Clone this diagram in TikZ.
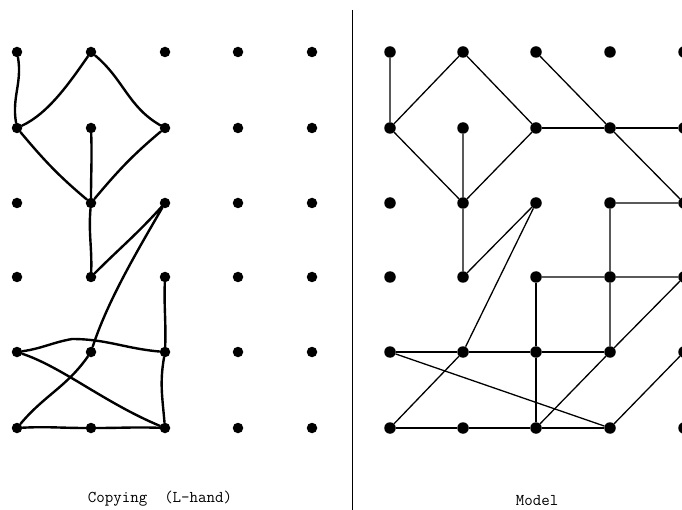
\documentclass[tikz,border=0pt]{standalone}
\usetikzlibrary{positioning}
\tikzset{
  dot/.style={circle, fill=black, inner sep=0pt, minimum size=11.5pt},
  hdot/.style={circle, fill=black, inner sep=0pt, minimum size=10.5pt},
  model/.style={line width=1.3pt},
  hand/.style={line width=2.4pt, line cap=round, line join=round},
  caption/.style={font=\fontsize{16.5}{18}\selectfont\ttfamily, anchor=base, inner sep=0pt}
}
\begin{document}
\begin{tikzpicture}[x=1pt,y=-1pt]
    \useasboundingbox (0,0) rectangle (682,510);

    % =====================
    % Dot grids
    % =====================
    \foreach \c/\x in {0/17,1/91,2/165,3/238,4/312}
      \foreach \r/\y in {0/52,1/128,2/203,3/277,4/352,5/428}
        \node[hdot] (L-\c-\r) at (\x,\y) {};
    \foreach \c/\x in {0/390,1/463,2/536,3/610,4/684}
      \foreach \r/\y in {0/52,1/128,2/203,3/277,4/352,5/428}
        \node[dot] (R-\c-\r) at (\x,\y) {};

    % =====================
    % Divider
    % =====================
    \coordinate (div-top) at (352.5,10);
    \coordinate (div-bot) at (352.5,510);
    \draw[line width=1.4pt] (div-top) -- (div-bot);

    % =====================
    % Left: the copy
    % =====================
    \coordinate (L-bump) at (72,339);
    \draw[hand] (L-0-0) to[out=-80,in=100] (L-0-1);
    \draw[hand] (L-0-1) to[out=25,in=-125,looseness=0.8] (L-1-0)
                to[out=-40,in=150] (L-2-1)
                to[out=-140,in=50] (L-1-2) to[out=140,in=-50] (L-0-1);
    \draw[hand] (L-1-1) to[out=-88,in=90] (L-1-2) to[out=-95,in=88] (L-1-3);
    \draw[hand] (L-1-3) to[out=45,in=-132] (L-2-2)
                to[out=-120,in=72,looseness=0.8] (L-1-4)
                to[out=-125,in=50] (L-0-5);
    \draw[hand] (L-0-4) to[out=8,in=190] (L-bump) to[out=0,in=175] (L-2-4);
    \draw[hand] (L-0-4) .. controls +(45,15) and +(-60,-25) .. (L-2-5);
    \draw[hand] (L-2-3) to[out=-92,in=88] (L-2-4) to[out=-100,in=95] (L-2-5);
    \draw[hand] (L-0-5) to[out=3,in=180] (L-1-5) to[out=0,in=178] (L-2-5);

    % =====================
    % Right: the model
    % =====================
    \draw[model] (R-0-0) -- (R-0-1) -- (R-1-0) -- (R-2-1) -- (R-1-2) -- (R-0-1);
    \draw[model] (R-1-1) -- (R-1-2) -- (R-1-3) -- (R-2-2) -- (R-1-4) -- (R-0-5);
    \draw[model] (R-2-0) -- (R-3-1) -- (R-4-2) -- (R-3-2) -- (R-3-3) -- (R-3-4);
    \draw[model] (R-2-1) -- (R-3-1) -- (R-4-1);
    \draw[model] (R-2-3) -- (R-3-3) -- (R-4-3) -- (R-3-4) -- (R-2-5);
    \draw[model] (R-2-3) -- (R-2-4) -- (R-2-5);
    \draw[model] (R-0-4) -- (R-1-4) -- (R-2-4) -- (R-3-4);
    \draw[model] (R-0-4) -- (R-3-5) -- (R-4-4);
    \draw[model] (R-0-5) -- (R-1-5) -- (R-2-5) -- (R-3-5);

    % =====================
    % Captions
    % =====================
    \node[caption] (copy-label) at (160,502) {Copying\ \ (L\textemdash hand)};
    \node[caption] (model-label) at (537,505) {Model};

\end{tikzpicture}
\end{document}
